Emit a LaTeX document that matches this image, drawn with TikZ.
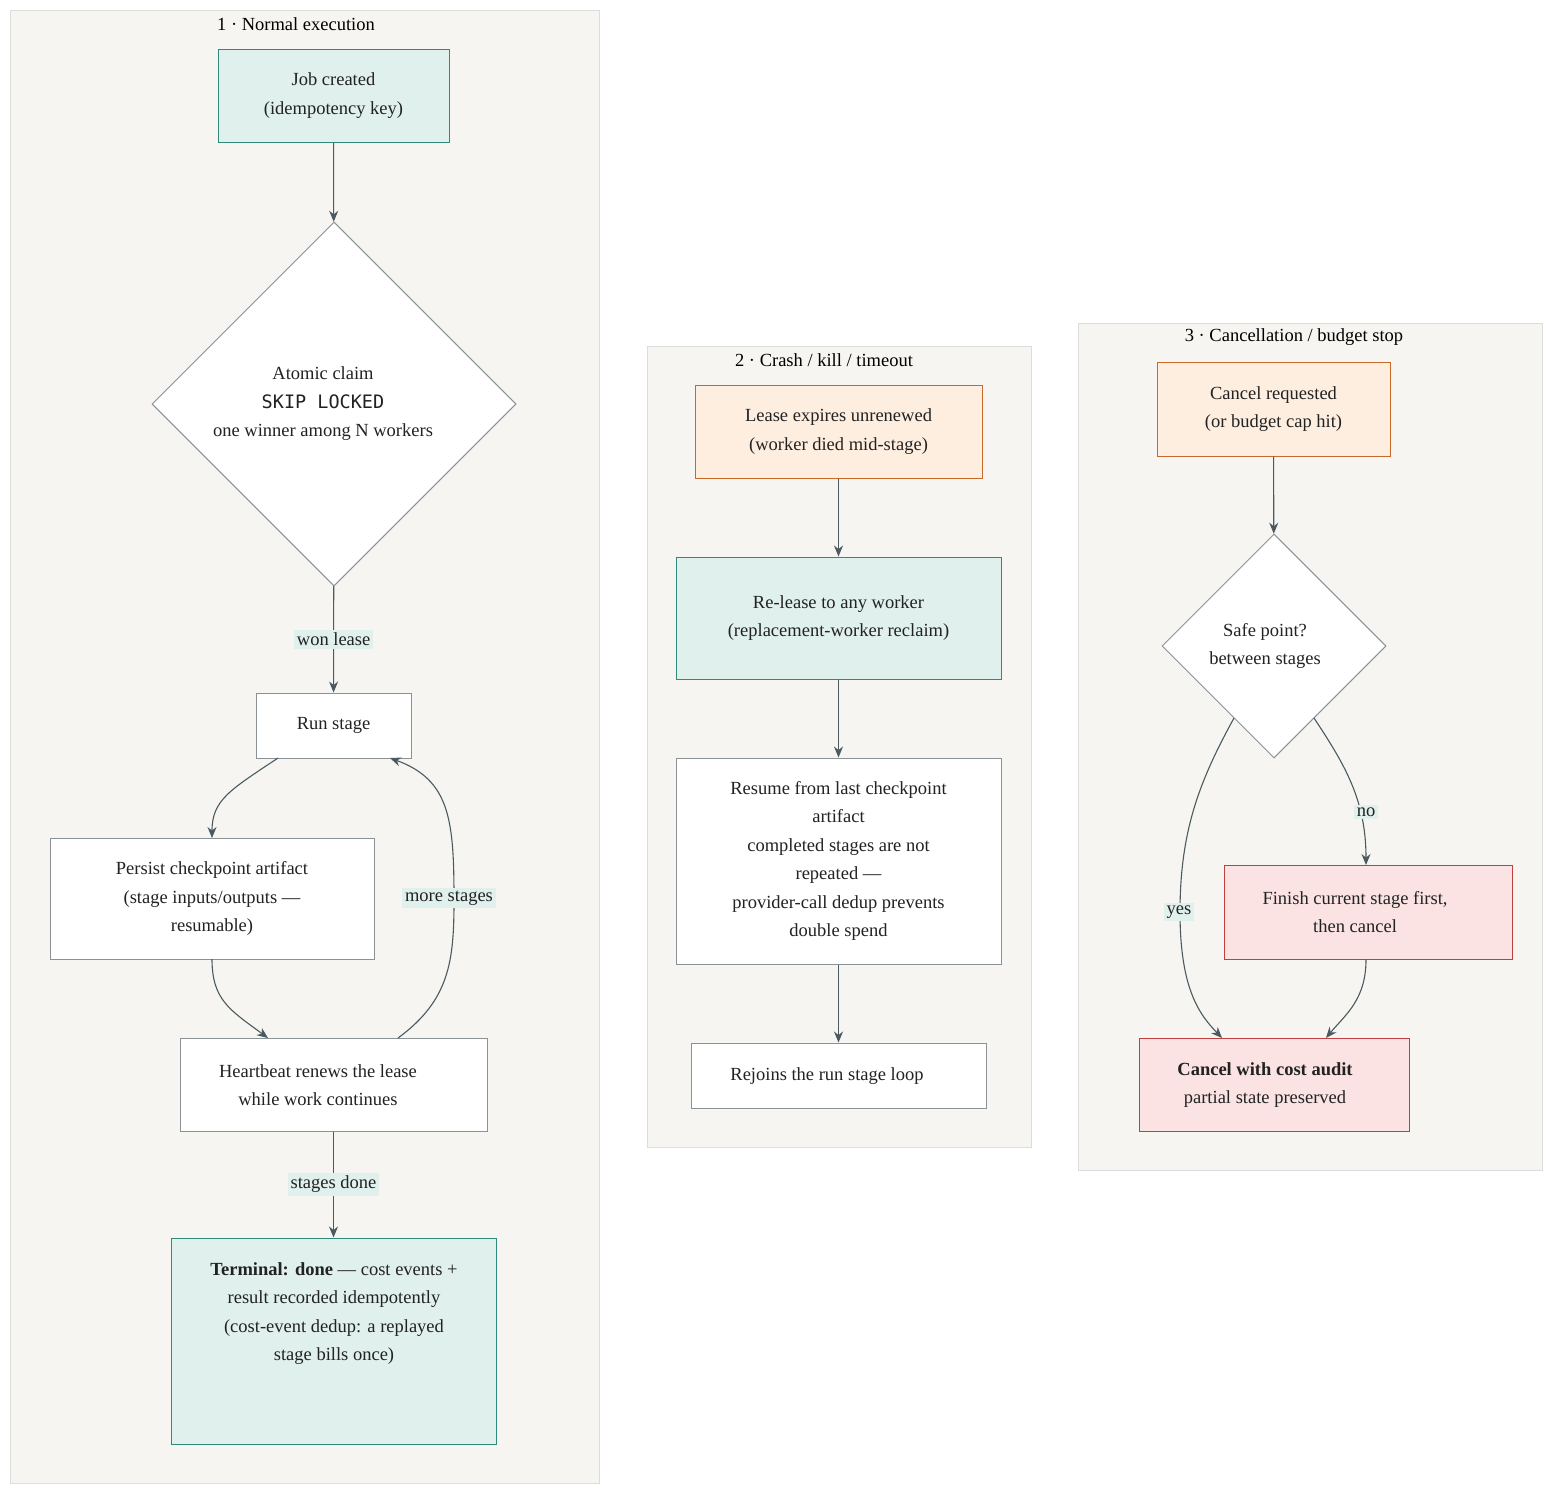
\documentclass[tikz,border=0pt]{standalone}
\usepackage{fontspec}
\setmainfont{Liberation Serif}
\setmonofont{DejaVu Sans Mono}
\usetikzlibrary{arrows.meta,shapes.geometric}
\definecolor{clfill}{HTML}{F6F5F2}
\definecolor{clline}{HTML}{DCDCDC}
\definecolor{tealf}{HTML}{E0F0EC}
\definecolor{teald}{HTML}{2E8B7A}
\definecolor{orf}{HTML}{FDEEE0}
\definecolor{ord}{HTML}{C8692A}
\definecolor{redf}{HTML}{FBE3E3}
\definecolor{redd}{HTML}{C0403F}
\definecolor{grd}{HTML}{8A9296}
\definecolor{edge}{HTML}{4A5A60}
\definecolor{txt}{HTML}{222222}
\tikzset{
  base/.style={draw, line width=1pt, align=center, inner sep=0pt, text=txt, font=\fontsize{18.5}{28.5}\selectfont},
  cluster/.style={draw=clline, fill=clfill, line width=1pt},
  ctitle/.style={text=black, font=\fontsize{18.5}{20}\selectfont},
  tealbox/.style={base, fill=tealf, draw=teald},
  orbox/.style={base, fill=orf, draw=ord},
  redbox/.style={base, fill=redf, draw=redd},
  whbox/.style={base, fill=white, draw=grd},
  dia/.style={base, fill=white, draw=grd, diamond, shape aspect=1},
  lbl/.style={fill=tealf, text=txt, inner sep=3pt, font=\fontsize{18.5}{20}\selectfont},
  conn/.style={draw=edge, line width=1.1pt, -{Stealth[length=11pt,width=9pt]}},
}
\newcommand{\bx}[6]{\node[#1, minimum width=#4pt-#3pt, minimum height=#6pt-#5pt] (#2) at ({(#3+#4)/2},{(#5+#6)/2})}
\begin{document}
\begin{tikzpicture}[x=1pt,y=-1pt]
\useasboundingbox (0,0) rectangle (1568,1510);
\fill[white] (0,0) rectangle (1568,1510);
% clusters
\draw[cluster] (10,10) rectangle (599,1483);
\node[ctitle] (t1) at (296,24) {1 · Normal execution};
\draw[cluster] (647,346) rectangle (1031,1147);
\node[ctitle] (t2) at (824,360) {2 · Crash / kill / timeout};
\draw[cluster] (1078,323) rectangle (1542,1170);
\node[ctitle] (t3) at (1294,337) {3 · Cancellation / budget stop};
% cluster 1
\bx{tealbox}{job}{218}{449}{49}{142} {Job created\\(idempotency key)};
\node[dia, minimum width=364pt, minimum height=364pt] (claim) at (334,404) {};
\node[base, draw=none] (claimt) at (323,404) {Atomic claim\\{\ttfamily SKIP LOCKED}\\one winner among N workers};
\bx{whbox}{run}{256}{411}{693}{758} {Run stage};
\bx{whbox}{persist}{50}{374}{838}{959} {Persist checkpoint artifact\\(stage inputs/outputs —\\resumable)};
\bx{whbox}{hb}{180}{487}{1038}{1131} {};
\node[base, draw=none] (hbt) at (318,1085) {Heartbeat renews the lease\\while work continues};
\bx{tealbox}{term}{171}{496}{1238}{1444} {};
\node[base, draw=none, anchor=north] (termt) at (334,1262) {\textbf{Terminal: done} — cost events +\\result recorded idempotently\\(cost-event dedup: a replayed\\stage bills once)};
% cluster 2
\bx{orbox}{lease}{695}{982}{385}{478} {Lease expires unrenewed\\(worker died mid-stage)};
\bx{tealbox}{relz}{676}{1001}{557}{679} {Re-lease to any worker\\(replacement-worker reclaim)};
\bx{whbox}{resume}{676}{1001}{758}{964} {Resume from last checkpoint\\artifact\\completed stages are not\\repeated —\\provider-call dedup prevents\\double spend};
\bx{whbox}{rejoin}{691}{986}{1043}{1108} {};
\node[base, draw=none] (rejoint) at (827,1076) {Rejoins the run stage loop};
% cluster 3
\bx{orbox}{cancel}{1157}{1390}{362}{456} {Cancel requested\\(or budget cap hit)};
\node[dia, minimum width=224pt, minimum height=224pt] (safe) at (1274,646) {};
\node[base, draw=none] (safet) at (1265,646) {Safe point?\\between stages};
\bx{redbox}{finish}{1224}{1512}{865}{959} {};
\node[base, draw=none] (finisht) at (1355,912) {Finish current stage first,\\then cancel};
\bx{redbox}{audit}{1139}{1409}{1038}{1131} {};
\node[base, draw=none] (auditt) at (1265,1085) {\textbf{Cancel with cost audit}\\partial state preserved};
% coordinates
\coordinate (rb) at (278,758);
\coordinate (pt) at (212,838);
\coordinate (pb) at (212,959);
\coordinate (ht) at (268,1038);
\coordinate (hr) at (398,1038);
\coordinate (rr) at (390,758);
\coordinate (sl) at (1234,718);
\coordinate (sr) at (1314,718);
\coordinate (at1) at (1222,1038);
\coordinate (at2) at (1326,1038);
% edges
\draw[conn] (job) -- (claim);
\draw[conn] (claim) -- node[lbl] (wl) {won lease} (run);
\draw[conn] (rb) .. controls (230,790) and (212,800) .. (pt);
\draw[conn] (pb) .. controls (212,1000) and (230,1010) .. (ht);
\draw[conn] (hr) .. controls (450,1000) and (454,960) .. (454,900) .. controls (454,820) and (450,780) .. (rr);
\node[lbl] (ms) at (449,898) {more stages};
\draw[conn] (hb) -- node[lbl] (sd) {stages done} (term);
\draw[conn] (lease) -- (relz);
\draw[conn] (relz) -- (resume);
\draw[conn] (resume) -- (rejoin);
\draw[conn] (cancel) -- (safe);
\draw[conn] (sl) .. controls (1200,780) and (1180,830) .. (1180,912) .. controls (1180,990) and (1200,1015) .. (at1);
\node[lbl] (yes) at (1179,912) {yes};
\draw[conn] (sr) .. controls (1345,765) and (1366,800) .. (1366,865);
\node[lbl] (no) at (1366,812) {no};
\draw[conn] (finish.south -| 1366,0) .. controls (1366,1000) and (1345,1015) .. (at2);
\end{tikzpicture}
\end{document}
